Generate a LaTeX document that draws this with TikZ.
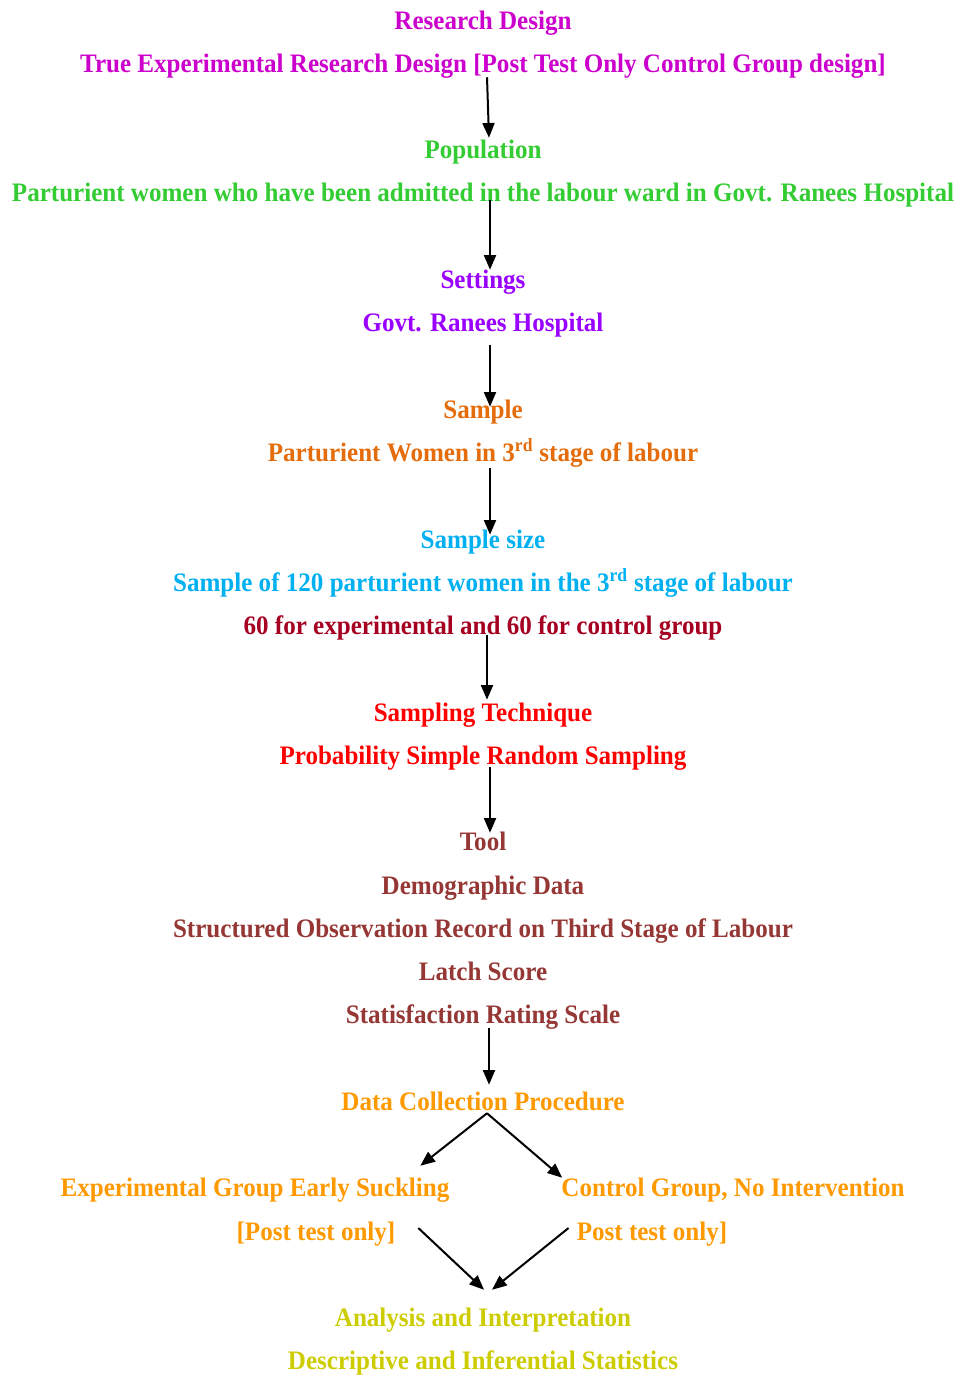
\documentclass[tikz,border=0pt]{standalone}
\usepackage{fontspec}
\setmainfont{Liberation Serif}[FakeStretch=0.94]
\usetikzlibrary{arrows.meta}
\definecolor{designcol}{RGB}{204,0,204}
\definecolor{popcol}{RGB}{51,204,51}
\definecolor{setcol}{RGB}{153,0,255}
\definecolor{samplecol}{RGB}{228,108,10}
\definecolor{sizecol}{RGB}{0,176,240}
\definecolor{groupcol}{RGB}{165,0,33}
\definecolor{techcol}{RGB}{255,0,0}
\definecolor{toolcol}{RGB}{149,55,53}
\definecolor{collectcol}{RGB}{255,153,0}
\definecolor{analysiscol}{RGB}{204,204,0}
\begin{document}
\begin{tikzpicture}[
   x=0.75pt, y=-0.75pt,
   every node/.style={font=\fontsize{20}{22}\selectfont\bfseries, inner sep=0pt,
                      text height=15.5pt, text depth=2.5pt},
   flow/.style={-{Triangle[length=11pt,width=9pt]}, line width=1.5pt}]

\useasboundingbox (0,0) rectangle (956,1376);

\node[designcol] (rd)  at (483,21) {Research Design};
\node[designcol] (rd1) at (483,64) {True Experimental Research Design [Post Test Only Control Group design]};

\node[popcol] (pop)  at (483,150) {Population};
\node[popcol] (pop1) at (483,193) {Parturient women who have been admitted in the labour ward in Govt. Ranees Hospital};

\node[setcol] (set)  at (483,280) {Settings};
\node[setcol] (set1) at (483,323) {Govt. Ranees Hospital};

\node[samplecol] (smp)  at (483,410) {Sample};
\node[samplecol] (smp1) at (483,453) {Parturient Women in 3\textsuperscript{rd} stage of labour};

\node[sizecol] (size)  at (483,540) {Sample size};
\node[sizecol] (size1) at (483,583) {Sample of 120 parturient women in the 3\textsuperscript{rd} stage of labour};
\node[groupcol] (size2) at (483,626) {60 for experimental and 60 for control group};

\node[techcol] (tech)  at (483,713) {Sampling Technique};
\node[techcol] (tech1) at (483,756) {Probability Simple Random Sampling};

\node[toolcol] (tool)  at (483,842) {Tool};
\node[toolcol] (tool1) at (483,886) {Demographic Data};
\node[toolcol] (tool2) at (483,929) {Structured Observation Record on Third Stage of Labour};
\node[toolcol] (tool3) at (483,972) {Latch Score};
\node[toolcol] (tool4) at (483,1015) {Statisfaction Rating Scale};

\node[collectcol] (dc) at (483,1102) {Data Collection Procedure};
\node[collectcol] (exp)  at (255,1188) {Experimental Group Early Suckling};
\node[collectcol] (exp1) at (316,1232) {[Post test only]};
\node[collectcol] (ctl)  at (733,1188) {Control Group, No Intervention};
\node[collectcol] (ctl1) at (652,1232) {Post test only]};

\node[analysiscol] (ana)  at (483,1318) {Analysis and Interpretation};
\node[analysiscol] (ana1) at (483,1361) {Descriptive and Inferential Statistics};

% arrows
\draw[flow] ([xshift=3pt,yshift=-0.75pt]rd1.south) -- ([xshift=4.5pt]pop.north);
\draw[flow] ([xshift=5.25pt,yshift=3.75pt]pop1.south) -- ([xshift=5.25pt,yshift=-1.5pt]set.north);
\draw[flow] ([xshift=5.25pt,yshift=-7.5pt]set1.south) -- ([xshift=5.25pt,yshift=-6.75pt]smp.north);
\draw[flow] ([xshift=5.25pt,yshift=-2.25pt]smp1.south) -- ([xshift=5.25pt,yshift=-5.25pt]size.north);
\draw[flow] ([xshift=3pt,yshift=2.25pt]size2.south) -- ([xshift=3pt,yshift=0.75pt]tech.north);
\draw[flow] ([xshift=5.25pt,yshift=0.75pt]tech1.south) -- ([xshift=5.25pt,yshift=-2.25pt]tool.north);
\draw[flow] ([xshift=4.5pt,yshift=-0.75pt]tool4.south) -- ([xshift=4.5pt,yshift=3.75pt]dc.north);
\draw[flow] ([xshift=3pt,yshift=0.75pt]dc.south) -- ([xshift=-22pt,yshift=7.5pt]exp.north east);
\draw[flow] ([xshift=3pt,yshift=0.75pt]dc.south) -- ([xshift=0.75pt,yshift=-1.5pt]ctl.north west);
\draw[flow] ([xshift=17pt,yshift=3pt]exp1.east) -- ([xshift=0.75pt,yshift=12pt]ana.north);
\draw[flow] ([xshift=-6pt,yshift=3pt]ctl1.west) -- ([xshift=6.75pt,yshift=12pt]ana.north);

\end{tikzpicture}
\end{document}
